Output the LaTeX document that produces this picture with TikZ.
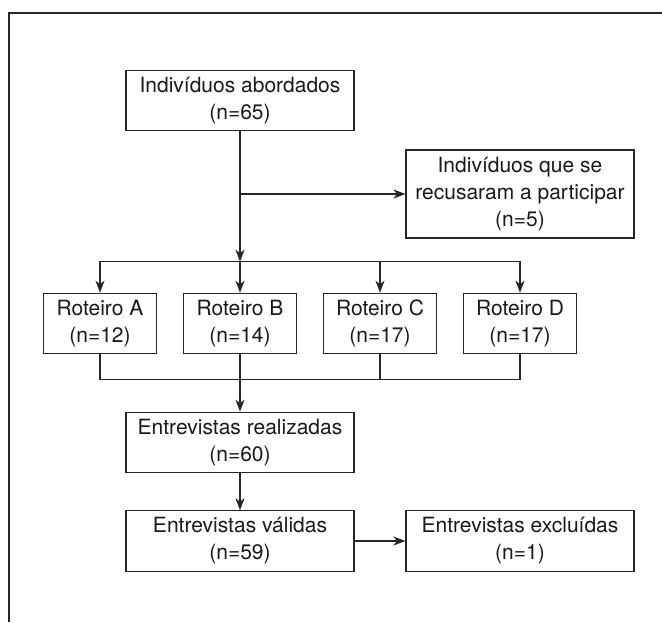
\documentclass[tikz,border=0pt]{standalone}
\usepackage{fontspec}
\setmainfont{TeX Gyre Heros}
\usetikzlibrary{arrows.meta, positioning}

\begin{document}
\begin{tikzpicture}[->,>={Stealth[length=12pt,width=9pt,inset=3.5pt]}, line width=1.2pt, color=black!85, box/.style={
						rectangle,
						draw=black!85, line width=1.1pt,
						minimum width=228pt,
						minimum height=60.5pt,
						inner sep=0pt,
						align=center,
						text=black!90,
						font=\fontsize{21}{27}\selectfont,
					}, roteiro/.style={box, minimum width=113.5pt},]
					\useasboundingbox (0pt,0pt) rectangle (662pt,-622pt);
					\draw[-] (662pt,-13pt) -- (9pt,-13pt) -- (9pt,-622pt);
					
					\node[box] (A) at (240pt,-100.5pt) {Indivíduos abordados\\(n=65)};
					\node[box, below of = A, xshift = 280pt, node distance = 93.5pt, minimum height = 88pt] (R) {Indivíduos que se\\recusaram a participar\\(n=5)};
					\node[roteiro, below of = A, node distance = 223pt] (RB) {Roteiro B\\(n=14)};
					\node[roteiro, left of = RB, node distance = 140pt] (RA) {Roteiro A\\(n=12)};
					\node[roteiro, right of = RB, node distance = 140pt] (RC) {Roteiro C\\(n=17)};
					\node[roteiro, right of = RC, node distance = 140pt] (RD) {Roteiro D\\(n=17)};
					\node[box, below of = RB, node distance = 119pt] (E) {Entrevistas realizadas\\(n=60)};
					\node[box, below of = E, node distance = 98.5pt] (V) {Entrevistas válidas\\(n=59)};
					\node[box, right of = V, node distance = 280pt] (X) {Entrevistas excluídas\\(n=1)};
					
					\path (RB.north) ++(0,31pt) coordinate (fork);
					\path (E.north) ++(0,32pt) coordinate (join);
					
					\path (A) edge (fork)
					(A.south |- R.west) edge (R)
					(fork) edge (RB)
					(RB) edge[-] (join)
					(join) edge (E)
					(E) edge (V)
					(V) edge (X)
					;
					\draw (fork) -| (RA);
					\draw (fork) -| (RC);
					\draw (fork) -| (RD);
					\draw[-] (RA) |- (join);
					\draw[-] (RC) |- (join);
					\draw[-] (RD) |- (join);
					\end{tikzpicture}
\end{document}
